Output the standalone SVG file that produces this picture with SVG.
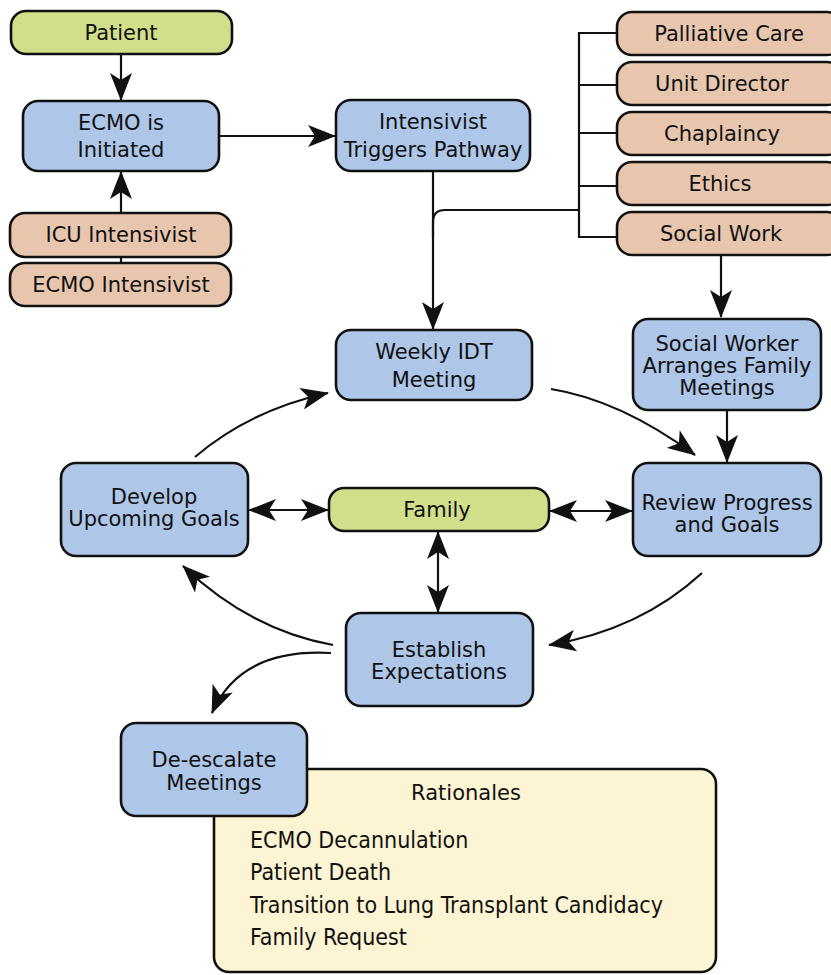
<svg xmlns="http://www.w3.org/2000/svg" width="831" height="975" viewBox="0 0 831 975">
<style>
.n rect{stroke:#111;stroke-width:2.6}
.blue{fill:#aec6e8}.green{fill:#d1df8a}.peach{fill:#e8c6ae}.yel{fill:#fdf4d3}
text{font-family:"DejaVu Sans",Verdana,sans-serif;font-size:21px;fill:#111;text-anchor:middle}
.r{font-family:"DejaVu Sans Condensed","DejaVu Sans",sans-serif;font-size:23px;text-anchor:start}
.c{fill:none;stroke:#111;stroke-width:2.2}
</style>
<defs>
<marker id="a" viewBox="0 0 28 22" refX="27" refY="11" markerWidth="28" markerHeight="22" markerUnits="userSpaceOnUse" orient="auto-start-reverse">
<path d="M0,0 L28,11 L0,22 L7,11 z" fill="#111"/>
</marker>
</defs>
<g id="connectors">
<path class="c" d="M121,54 V100" marker-end="url(#a)"/>
<path class="c" d="M121,213 V172" marker-end="url(#a)"/>
<path class="c" d="M121,257 V263"/>
<path class="c" d="M219,136 H335" marker-end="url(#a)"/>
<path class="c" d="M433,171 V329" marker-end="url(#a)"/>
<path class="c" d="M617,33 H579 V237 H617 M579,85 H617 M579,133 H617 M579,186 H617"/>
<path class="c" d="M579,210 H445 Q433,210 433,222 V237"/>
<path class="c" d="M721,255 V317" marker-end="url(#a)"/>
<path class="c" d="M727,410 V462" marker-end="url(#a)"/>
<path class="c" d="M195,457 Q250,410 328,393" marker-end="url(#a)"/>
<path class="c" d="M551,389 Q620,400 695,455" marker-end="url(#a)"/>
<path class="c" d="M702,573 Q640,630 549,645" marker-end="url(#a)"/>
<path class="c" d="M333,645 Q250,630 183,566" marker-end="url(#a)"/>
<path class="c" d="M331,653 Q240,648 212,713" marker-end="url(#a)"/>
<path class="c" d="M249,510 H328" marker-start="url(#a)" marker-end="url(#a)"/>
<path class="c" d="M550,511 H632" marker-start="url(#a)" marker-end="url(#a)"/>
<path class="c" d="M438,532 V612" marker-start="url(#a)" marker-end="url(#a)"/>
</g>
<g id="patient" class="n"><rect class="green" x="11" y="11" width="221" height="43" rx="15"/><text x="121" y="40">Patient</text></g>
<g id="ecmo-initiated" class="n"><rect class="blue" x="23" y="101" width="196" height="70" rx="15"/><text x="121" y="130">ECMO is</text><text x="121" y="157">Initiated</text></g>
<g id="icu-intensivist" class="n"><rect class="peach" x="10" y="213" width="221" height="44" rx="15"/><text x="121" y="242">ICU Intensivist</text></g>
<g id="ecmo-intensivist" class="n"><rect class="peach" x="10" y="263" width="221" height="43" rx="15"/><text x="121" y="292">ECMO Intensivist</text></g>
<g id="intensivist-triggers" class="n"><rect class="blue" x="336" y="100" width="194" height="71" rx="15"/><text x="433" y="129">Intensivist</text><text x="433" y="157">Triggers Pathway</text></g>
<g id="palliative-care" class="n"><rect class="peach" x="617" y="12" width="225" height="43" rx="15"/><text x="729" y="41">Palliative Care</text></g>
<g id="unit-director" class="n"><rect class="peach" x="617" y="62" width="225" height="43" rx="15"/><text x="722" y="91">Unit Director</text></g>
<g id="chaplaincy" class="n"><rect class="peach" x="617" y="112" width="225" height="43" rx="15"/><text x="722" y="141">Chaplaincy</text></g>
<g id="ethics" class="n"><rect class="peach" x="617" y="162" width="225" height="43" rx="15"/><text x="720" y="191">Ethics</text></g>
<g id="social-work" class="n"><rect class="peach" x="617" y="212" width="225" height="43" rx="15"/><text x="721" y="241">Social Work</text></g>
<g id="weekly-idt" class="n"><rect class="blue" x="336" y="330" width="196" height="70" rx="15"/><text x="434" y="359">Weekly IDT</text><text x="434" y="387">Meeting</text></g>
<g id="social-worker" class="n"><rect class="blue" x="633" y="319" width="188" height="91" rx="15"/><text x="727" y="351">Social Worker</text><text x="727" y="373">Arranges Family</text><text x="727" y="395">Meetings</text></g>
<g id="review" class="n"><rect class="blue" x="633" y="463" width="188" height="93" rx="15"/><text x="727" y="510">Review Progress</text><text x="727" y="532">and Goals</text></g>
<g id="family" class="n"><rect class="green" x="329" y="488" width="220" height="43" rx="15"/><text x="437" y="517">Family</text></g>
<g id="develop" class="n"><rect class="blue" x="61" y="463" width="187" height="93" rx="15"/><text x="154" y="504">Develop</text><text x="154" y="526">Upcoming Goals</text></g>
<g id="establish" class="n"><rect class="blue" x="346" y="613" width="187" height="93" rx="15"/><text x="439" y="657">Establish</text><text x="439" y="679">Expectations</text></g>
<g id="rationales" class="n"><rect class="yel" x="214" y="769" width="502" height="203" rx="15"/><text x="466" y="800">Rationales</text>
<text class="r" x="250" y="848">ECMO Decannulation</text>
<text class="r" x="250" y="880">Patient Death</text>
<text class="r" x="250" y="913">Transition to Lung Transplant Candidacy</text>
<text class="r" x="250" y="945">Family Request</text></g>
<g id="de-escalate" class="n"><rect class="blue" x="121" y="723" width="186" height="93" rx="15"/><text x="214" y="767">De-escalate</text><text x="214" y="790">Meetings</text></g>
</svg>
